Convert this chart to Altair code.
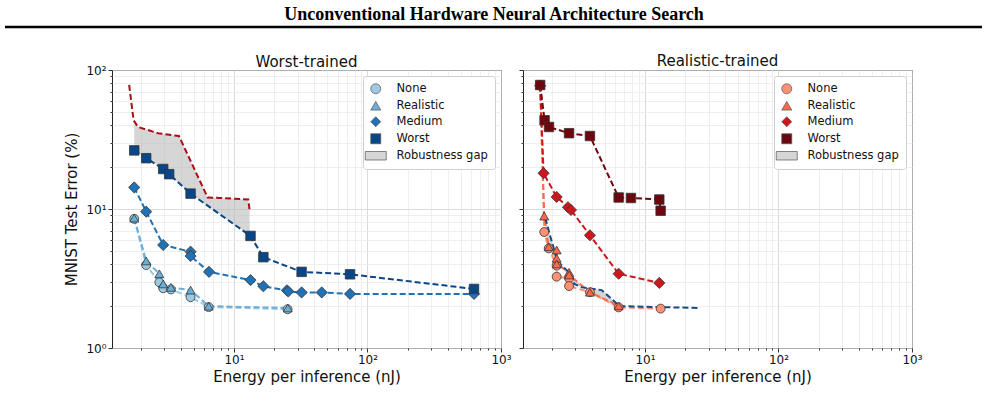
import altair as alt
import numpy as np
import pandas as pd

HEADER = "Unconventional Hardware Neural Architecture Search"
PANEL_TITLES = ["Worst-trained", "Realistic-trained"]
SERIES = ["None", "Realistic", "Medium", "Worst"]
GAP_LABEL = "Robustness gap"
X_TITLE = "Energy per inference (nJ)"
Y_TITLE = "MNIST Test Error (%)"

# ---- Worst-trained models (left panel) ----
wt_none_x = [1.79, 2.20, 2.76, 2.95, 3.37, 4.73, 6.46, 25.2]
wt_none_y = [8.5, 3.95, 2.97, 2.69, 2.64, 2.32, 1.97, 1.90]
wt_real_x = [1.79, 2.20, 2.76, 2.95, 3.37, 4.73, 6.46, 25.3]
wt_real_y = [8.6, 4.23, 3.42, 2.89, 2.73, 2.61, 2.00, 1.94]
wt_med_x = [1.79, 2.20, 2.95, 4.73, 4.73, 6.5, 13.3, 16.6, 24.9, 25.5, 32.1, 45.4, 74, 628]
wt_med_y = [14.3, 9.57, 5.51, 4.93, 4.59, 3.53, 3.08, 2.78, 2.60, 2.55, 2.51, 2.51, 2.45, 2.45]
wt_worst_x = [1.79, 2.20, 2.95, 3.27, 4.73, 13.3, 16.6, 32.1, 74, 628]
wt_worst_y = [26.4, 23.2, 19.4, 17.8, 12.9, 6.4, 4.5, 3.53, 3.39, 2.66]

# ---- Realistic-trained models (right panel) ----
rt_none_x = [1.64, 1.76, 1.90, 2.18, 2.18, 2.70, 2.70, 3.87, 6.35, 13.1]
rt_none_y = [78, 6.83, 5.21, 3.91, 3.26, 3.17, 2.79, 2.52, 1.96, 1.92]
rt_real_x = [1.64, 1.76, 1.90, 2.18, 2.18, 2.18, 2.70, 2.70, 3.87, 6.35]
rt_real_y = [78, 8.9, 5.35, 5.07, 4.42, 4.02, 3.50, 3.35, 2.52, 2.01]
rt_med_x = [1.64, 1.74, 2.18, 2.65, 2.79, 3.87, 6.35, 12.8]
rt_med_y = [77, 18.1, 12.2, 10.3, 9.84, 6.47, 3.42, 2.94]
rt_worst_x = [1.64, 1.77, 1.91, 2.70, 3.87, 6.35, 7.85, 12.8, 13.1]
rt_worst_y = [78, 43.5, 38.9, 35.1, 33.5, 12.1, 12.0, 11.7, 9.72]

BLUES = ["#9ecae1", "#6baed6", "#2171b5", "#08468a"]
REDS = ["#fc9272", "#fb6a4a", "#cb181d", "#6e0610"]
OVERLAY_LEFT = "#a50f15"
OVERLAY_RIGHT = "#174a8b"
GAP_FILL = "#b4b4b4"
GAP_LEGEND = "#d6d6d6"
SHAPES = ["circle", "triangle-up", "diamond", "square", "M-2.1,-0.85L2.1,-0.85L2.1,0.85L-2.1,0.85Z"]
SIZES = [80, 80, 125, 90]

X_DOMAIN = [1.22, 1000]
Y_DOMAIN = [1, 100]
X_TICKS = [m * 10 ** k for k in range(0, 3) for m in range(1, 10)] + [1000]
X_TICKS = [t for t in X_TICKS if t >= X_DOMAIN[0]]
Y_TICKS = [m * 10 ** k for k in range(0, 2) for m in range(1, 10)] + [100]

MAJOR_TEST = "indexof([1,10,100,1000], datum.value) >= 0"
LABEL_EXPR = ("datum.value == 1 ? '10\u2070' : datum.value == 10 ? '10\u00b9' : "
              "datum.value == 100 ? '10\u00b2' : datum.value == 1000 ? '10\u00b3' : ''")

W, H = 389, 278


def gap_frame(ax, ay, bx, by):
    lo = max(min(ax), min(bx))
    hi = min(max(ax), max(bx))
    grid = sorted(set(v for v in list(ax) + list(bx) if lo <= v <= hi))
    lg = np.log10(grid)
    ya = np.interp(lg, np.log10(ax), np.log10(ay))
    yb = np.interp(lg, np.log10(bx), np.log10(by))
    return pd.DataFrame({"x": grid, "y": 10 ** ya, "y2": 10 ** yb})


def axis_common(**kw):
    base = dict(
        labelFont="DejaVu Sans", labelFontSize=12, labelColor="#111",
        titleFont="DejaVu Sans", titleFontSize=15, titleFontWeight="normal", titleColor="#111",
        labelExpr=LABEL_EXPR, labelOverlap=False, labelFlush=False, domain=False,
        tickColor="#333",
        tickSize={"condition": {"test": MAJOR_TEST, "value": 4}, "value": 2},
        gridColor={"condition": {"test": MAJOR_TEST, "value": "#d2d2d2"}, "value": "#ebebeb"},
        gridWidth=0.8, labelPadding=2,
    )
    base.update(kw)
    return alt.Axis(**base)


def panel(xs, ys, colors, ov_x, ov_y, ov_color, gap, title, left, title_offset):
    rows = []
    for s, (sx, sy) in enumerate(zip(xs, ys)):
        for i, (xv, yv) in enumerate(zip(sx, sy)):
            rows.append({"series": SERIES[s], "x": xv, "y": yv, "idx": i,
                         "lc": colors[s], "sz": SIZES[s], "so": s})
    df = pd.DataFrame(rows)
    ov = pd.DataFrame({"x": ov_x, "y": ov_y, "idx": list(range(len(ov_x)))})

    xs_ = alt.Scale(type="log", domain=X_DOMAIN, nice=False)
    ys_ = alt.Scale(type="log", domain=Y_DOMAIN, nice=False)
    xax = axis_common(values=X_TICKS, title=X_TITLE, titlePadding=4)
    if left:
        yax = axis_common(values=Y_TICKS, title=Y_TITLE, titlePadding=6)
    else:
        yax = axis_common(values=Y_TICKS, title=None, labels=False)

    X = alt.X("x:Q", scale=xs_, axis=xax)
    Y = alt.Y("y:Q", scale=ys_, axis=yax)

    area = alt.Chart(gap).mark_area(color=GAP_FILL, opacity=0.55).encode(
        x=alt.X("x:Q", scale=xs_), y=alt.Y("y:Q", scale=ys_), y2="y2:Q")

    ovline = alt.Chart(ov).mark_line(color=ov_color, strokeDash=[6, 3], strokeWidth=2).encode(
        x=alt.X("x:Q", scale=xs_), y=alt.Y("y:Q", scale=ys_), order="idx:Q")

    lines = alt.Chart(df).mark_line(strokeDash=[6, 3], strokeWidth=2).encode(
        x=alt.X("x:Q", scale=xs_), y=alt.Y("y:Q", scale=ys_),
        color=alt.Color("lc:N", scale=None),
        detail="series:N", order="idx:Q")

    legend = alt.Legend(
        title=None, orient="top-right", offset=6, fillColor="white", strokeColor="#cfcfcf",
        padding=7, cornerRadius=3, labelFont="DejaVu Sans", labelFontSize=11.5,
        labelColor="#111", symbolSize=100, rowPadding=3, labelOffset=15,
        symbolStrokeWidth=0.7, symbolStrokeColor="#555",
    )
    dom = SERIES + [GAP_LABEL]
    pts = alt.Chart(df).mark_point(filled=True, opacity=1, stroke="#333", strokeWidth=0.8).encode(
        x=X, y=Y,
        color=alt.Color("series:N", scale=alt.Scale(domain=dom, range=colors + [GAP_LEGEND]), legend=legend),
        shape=alt.Shape("series:N", scale=alt.Scale(domain=dom, range=SHAPES), legend=legend),
        size=alt.Size("sz:Q", scale=None),
        order=alt.Order("so:Q"),
    )

    return alt.layer(area, lines, ovline, pts).properties(
        width=W, height=H,
        title=alt.TitleParams(title, font="DejaVu Sans", fontSize=15, fontWeight="normal",
                              color="#111", offset=title_offset, frame="group"),
    )


left = panel([wt_none_x, wt_real_x, wt_med_x, wt_worst_x],
             [wt_none_y, wt_real_y, wt_med_y, wt_worst_y],
             BLUES, rt_worst_x, rt_worst_y, OVERLAY_LEFT,
             gap_frame(rt_worst_x, rt_worst_y, wt_worst_x, wt_worst_y),
             PANEL_TITLES[0], True, -6)
right = panel([rt_none_x, rt_real_x, rt_med_x, rt_worst_x],
              [rt_none_y, rt_real_y, rt_med_y, rt_worst_y],
              REDS, wt_real_x, wt_real_y, OVERLAY_RIGHT,
              gap_frame(wt_real_x, wt_real_y, rt_real_x, rt_real_y),
              PANEL_TITLES[1], False, 1)

spacer = alt.Chart(pd.DataFrame({"v": [1]})).mark_point(opacity=0).encode(
    x=alt.X("v:Q", axis=None), y=alt.Y("v:Q", axis=None)
).properties(width=49, height=H, view=alt.ViewBackground(stroke="transparent"))

hdr_df = pd.DataFrame({"t": [HEADER]})
header = alt.layer(
    alt.Chart(hdr_df).mark_text(font="Liberation Serif", fontSize=18, fontWeight="bold",
                                baseline="middle", align="center", color="black").encode(
        text="t:N", x=alt.value(489), y=alt.value(14)),
    alt.Chart(hdr_df).mark_rule(color="black", strokeWidth=2.5).encode(
        x=alt.value(0), x2=alt.value(977), y=alt.value(26)),
).properties(width=977, height=28, view=alt.ViewBackground(stroke="transparent"))

panels = alt.hconcat(spacer, left, right, spacing=6).resolve_scale(
    x="independent", y="independent", color="independent", shape="independent")

chart = alt.vconcat(header, panels, spacing=23).properties(
    padding={"left": 3, "right": 0, "top": 0, "bottom": 0}
).configure(font="DejaVu Sans").configure_view(stroke="#222", strokeWidth=1)

chart.save("out.html", embed_options={"renderer": "svg", "actions": False})
